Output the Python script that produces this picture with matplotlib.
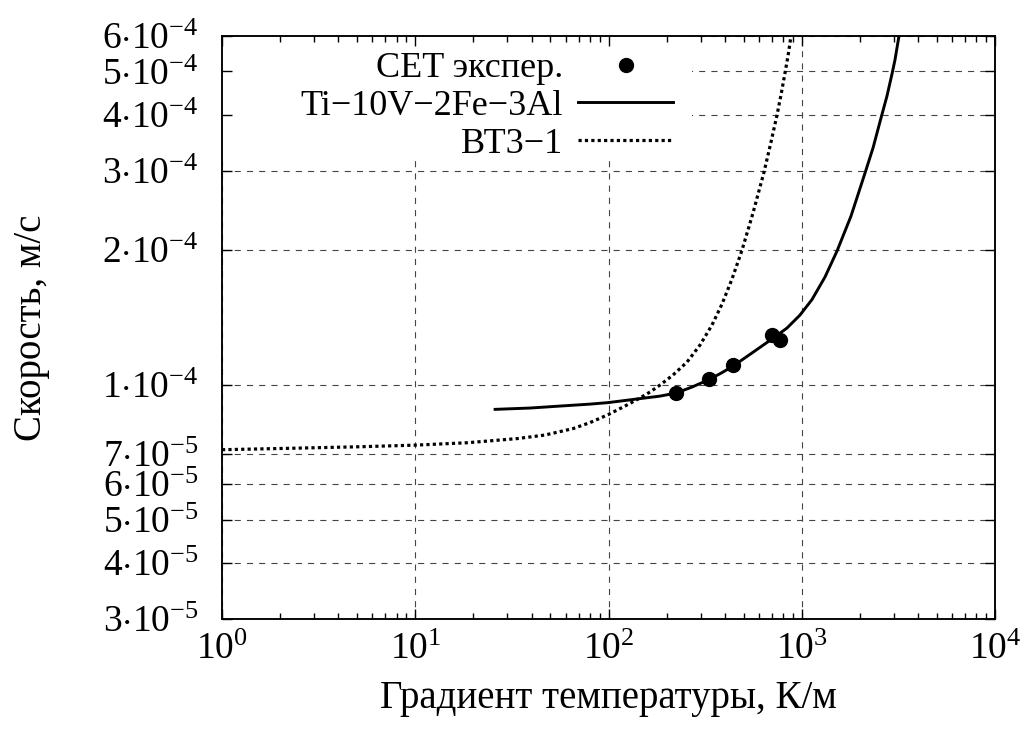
import matplotlib
matplotlib.use("Agg")
import matplotlib.pyplot as plt
from matplotlib.patches import Rectangle
from matplotlib.ticker import FixedLocator, FixedFormatter, LogLocator, LogFormatterMathtext, NullFormatter, NullLocator

plt.rcParams["font.family"] = "Liberation Serif"
plt.rcParams["mathtext.fontset"] = "custom"
plt.rcParams["mathtext.rm"] = "Liberation Serif"
plt.rcParams["mathtext.it"] = "Liberation Serif:italic"
plt.rcParams["mathtext.bf"] = "Liberation Serif:bold"

# CET experiment
exp_grad = [223, 331, 441, 702, 772]
exp_vel = [9.58e-5, 1.029e-4, 1.106e-4, 1.291e-4, 1.258e-4]

# Ti-10V-2Fe-3Al model curve
ti_grad = [25.9, 39.3, 56.1, 80.2, 99.4, 145.5, 184.7, 223.6, 270.5, 331.6,
           382.1, 440.8, 552.7, 701.7, 838.9, 979, 1130, 1319, 1522, 1798,
           2125, 2337, 2571, 2761, 2931, 3037, 3185]
ti_vel = [8.81e-5, 8.87e-5, 8.96e-5, 9.05e-5, 9.12e-5, 9.31e-5, 9.43e-5,
          9.58e-5, 9.88e-5, 1.027e-4, 1.061e-4, 1.100e-4, 1.177e-4, 1.265e-4,
          1.338e-4, 1.430e-4, 1.549e-4, 1.739e-4, 1.987e-4, 2.378e-4, 2.967e-4,
          3.374e-4, 3.937e-4, 4.409e-4, 4.937e-4, 5.306e-4, 6.0e-4]

# VT3-1 model curve
vt_grad = [1, 2.53, 5.18, 9.97, 18.5, 33.6, 46.9, 65.5, 80.2, 99.4, 121.7,
           145.5, 163.9, 184.7, 215.7, 254.8, 297.5, 343.3, 386.6, 435.6,
           490.8, 559.3, 637.9, 693.3, 744.8, 780.9, 819.0, 849.0, 879.9]
vt_vel = [7.16e-5, 7.22e-5, 7.27e-5, 7.33e-5, 7.42e-5, 7.58e-5, 7.72e-5,
          7.98e-5, 8.23e-5, 8.57e-5, 8.96e-5, 9.34e-5, 9.63e-5, 9.98e-5,
          1.051e-4, 1.123e-4, 1.226e-4, 1.359e-4, 1.513e-4, 1.721e-4, 1.997e-4,
          2.416e-4, 2.982e-4, 3.479e-4, 3.999e-4, 4.431e-4, 4.961e-4, 5.414e-4,
          6.0e-4]

ytick_vals = [3e-5, 4e-5, 5e-5, 6e-5, 7e-5, 1e-4, 2e-4, 3e-4, 4e-4, 5e-4, 6e-4]
ytick_labels = [r"$3{\cdot}10^{-5}$", r"$4{\cdot}10^{-5}$", r"$5{\cdot}10^{-5}$",
                r"$6{\cdot}10^{-5}$", r"$7{\cdot}10^{-5}$", r"$1{\cdot}10^{-4}$",
                r"$2{\cdot}10^{-4}$", r"$3{\cdot}10^{-4}$", r"$4{\cdot}10^{-4}$",
                r"$5{\cdot}10^{-4}$", r"$6{\cdot}10^{-4}$"]

tick_fs = 27
label_fs = 28
leg_fs = 26
pos = [222 / 1024, 110 / 729, 773 / 1024, 583 / 729]

fig = plt.figure(figsize=(10.24, 7.29), dpi=100)
ax = fig.add_axes(pos)
ax.set_xscale("log")
ax.set_yscale("log")
ax.set_xlim(1, 1e4)
ax.set_ylim(3e-5, 6e-4)

ax.yaxis.set_major_locator(FixedLocator(ytick_vals))
ax.yaxis.set_major_formatter(FixedFormatter(ytick_labels))
ax.yaxis.set_minor_locator(NullLocator())
ax.xaxis.set_major_locator(LogLocator(base=10))
ax.xaxis.set_major_formatter(LogFormatterMathtext())
ax.xaxis.set_minor_locator(LogLocator(base=10, subs=range(2, 10)))
ax.xaxis.set_minor_formatter(NullFormatter())

ax.grid(True, which="major", linestyle=(0, (5.5, 5.5)), linewidth=0.8, color="#444444")

# blank key area (gnuplot key hides the grid behind it)
ax.add_patch(Rectangle((0, 0.787), 0.608, 0.213, transform=ax.transAxes,
                       facecolor="white", edgecolor="none", zorder=1.8))

ax.plot(exp_grad, exp_vel, "o", color="black", markersize=10, label="CET экспер.", zorder=4)
ax.plot(ti_grad, ti_vel, "-", color="black", linewidth=2.1, solid_joinstyle="round",
        label="Ti\u221210V\u22122Fe\u22123Al")
ax.plot(vt_grad, vt_vel, color="black", linewidth=2.3, linestyle=(0, (1, 1.0)),
        label="ВТ3\u22121")

leg = ax.legend(loc="upper right", bbox_to_anchor=(0.598, 0.991), fontsize=leg_fs,
                markerfirst=False, numpoints=1, handlelength=2.65, handletextpad=0.4,
                labelspacing=0.12, borderaxespad=0.0, borderpad=0.3, frameon=False)

ax.tick_params(axis="both", which="both", length=0, labelsize=tick_fs)
ax.tick_params(axis="y", pad=17)
ax.tick_params(axis="x", pad=10)
for s in ax.spines.values():
    s.set_linewidth(1.1)

ax.set_xlabel("Градиент температуры, К/м", fontsize=label_fs)
ax.set_ylabel("Скорость, м/с", fontsize=label_fs)
ax.xaxis.set_label_coords(0.5, -0.105)
ax.yaxis.set_label_coords(-0.2225, 0.5)

# overlay axes carrying the tick marks so they stay above the key area
axt = fig.add_axes(pos, sharex=ax, sharey=ax)
axt.patch.set_visible(False)
axt.tick_params(axis="both", which="both", direction="in", top=True, right=True,
                labelbottom=False, labelleft=False, width=1.0)
axt.tick_params(axis="both", which="major", length=7)
axt.tick_params(axis="both", which="minor", length=4)
for s in axt.spines.values():
    s.set_linewidth(1.1)

fig.savefig("out.png", dpi=100)
